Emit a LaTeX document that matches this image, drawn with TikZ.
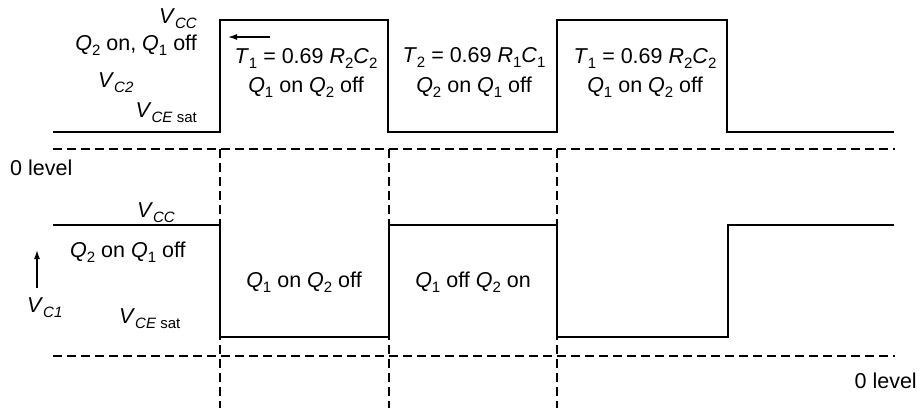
\documentclass[tikz,border=0pt]{standalone}
\usepackage{fontspec}
\setmainfont{Liberation Sans}
\usetikzlibrary{arrows.meta}
\newcommand\lo[1]{\raisebox{-5pt}{\fontsize{15}{15}\selectfont #1}}
\newcommand\ilo[1]{\lo{\itshape #1}}
\newcommand\vv[1]{\textit{V}\ilo{#1}}
\newcommand\qq[1]{\textit{Q}\lo{#1}}
\begin{document}
\begin{tikzpicture}[x=1pt,y=-1pt,
  wave/.style={line width=2.8pt, line join=miter},
  guide/.style={line width=1.3pt, dash pattern=on 9pt off 5pt},
  lbl/.style={inner sep=0pt, font=\fontsize{21.5}{25}\selectfont},
  ptr/.style={line width=1.4pt, -{Latex[length=9pt,width=6pt]}}]
\useasboundingbox (0,0) rectangle (922,408);
% guides
\draw[guide] (53,149) -- (895,149);
\draw[guide] (53,356) -- (895,356);
\draw[guide] (220,149) -- (220,408);
\draw[guide] (389,149) -- (389,408);
\draw[guide] (557,149) -- (557,408);
% waves
\draw[wave] (53,132) -- (220,132) -- (220,20) -- (388,20) -- (388,132) -- (557,132) -- (557,20) -- (727,20) -- (727,132) -- (894,132);
\draw[wave] (53,225) -- (220,225) -- (220,337) -- (389,337) -- (389,225) -- (557,225) -- (557,337) -- (728,337) -- (728,225) -- (894,225);
% top labels
\node[lbl, anchor=base east] (vcc1) at (197,23) {\vv{CC}};
\node[lbl, anchor=base east] (st1) at (197,50) {\qq{2} on, \qq{1} off};
\node[lbl, anchor=base west] (vc2) at (98,87) {\vv{C2}};
\node[lbl, anchor=base east] (vce1) at (197,117) {\textit{V}\lo{\textit{CE} sat}};
\node[lbl, anchor=base] (t1a) at (306,63) {\textit{T}\lo{1} = 0.69 \textit{R}\lo{2}\textit{C}\lo{2}};
\node[lbl, anchor=base] (q1a) at (306,92) {\qq{1} on \qq{2} off};
\node[lbl, anchor=base] (t2) at (474,62) {\textit{T}\lo{2} = 0.69 \textit{R}\lo{1}\textit{C}\lo{1}};
\node[lbl, anchor=base] (q2) at (474,92) {\qq{2} on \qq{1} off};
\node[lbl, anchor=base] (t1b) at (645,63) {\textit{T}\lo{1} = 0.69 \textit{R}\lo{2}\textit{C}\lo{2}};
\node[lbl, anchor=base] (q1b) at (645,92) {\qq{1} on \qq{2} off};
\coordinate (a1s) at (270,37);
\coordinate (a1e) at (228,37);
\draw[ptr] (a1s) -- (a1e);
% middle / bottom labels
\node[lbl, anchor=base west] (zl1) at (10,175) {0 level};
\node[lbl, anchor=base east] (vcc2) at (175,217) {\vv{CC}};
\node[lbl, anchor=base west] (st2) at (70,257) {\qq{2} on \qq{1} off};
\node[lbl, anchor=base west] (vc1) at (27,312) {\vv{C1}};
\node[lbl, anchor=base west] (vce2) at (119,323) {\textit{V}\lo{\textit{CE} sat}};
\node[lbl, anchor=base] (q3) at (304,287) {\qq{1} on \qq{2} off};
\node[lbl, anchor=base] (q4) at (473,287) {\qq{1} off \qq{2} on};
\node[lbl, anchor=base east] (zl2) at (917,388) {0 level};
\coordinate (a2s) at (37,288);
\coordinate (a2e) at (37,250);
\draw[ptr] (a2s) -- (a2e);
\end{tikzpicture}
\end{document}
